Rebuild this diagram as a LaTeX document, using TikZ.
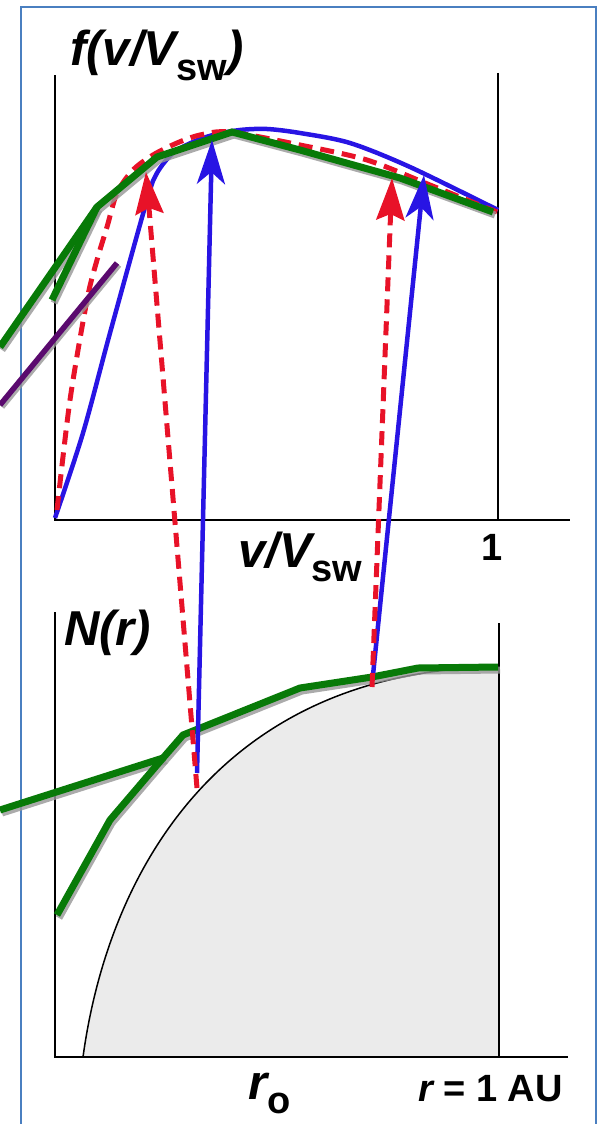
\documentclass[tikz,border=0pt]{standalone}
\usepackage{fontspec}
\setmainfont{Liberation Sans}
\usetikzlibrary{arrows.meta}
\definecolor{blueC}{RGB}{40,20,228}
\definecolor{redC}{RGB}{232,18,40}
\definecolor{greenC}{RGB}{8,122,8}
\definecolor{purpleC}{RGB}{90,10,110}
\definecolor{fillC}{RGB}{235,235,235}
\definecolor{frameC}{RGB}{74,127,192}
\definecolor{shadowC}{RGB}{150,150,150}
\newcommand\subtx[1]{\raisebox{-0.3em}{\fontsize{38}{38}\selectfont\upshape #1}}
\tikzset{
  axisline/.style={black, line width=2.2pt},
  greenline/.style={greenC, line width=7pt, line join=miter},
  shadowline/.style={shadowC, line width=7pt, opacity=0.8},
  bluecurve/.style={blueC, line width=4.5pt},
  reddash/.style={redC, line width=5pt, dash pattern=on 14pt off 8pt},
  bluearrow/.style={blueC, line width=4.5pt, -{Stealth[length=44pt,width=28pt,inset=12pt]}},
  redarrow/.style={redC, line width=5pt, dash pattern=on 14pt off 8pt, -{Stealth[length=42pt,width=28pt,inset=6pt]}},
  lbl/.style={inner sep=0pt, font=\fontsize{49}{49}\selectfont\bfseries\itshape},
  lblsmall/.style={inner sep=0pt, font=\fontsize{38}{38}\selectfont\bfseries},
}
\begin{document}
\begin{tikzpicture}[x=1pt,y=-1pt]
\useasboundingbox (0,0) rectangle (597,1124);
% frame
\draw[frameC, line width=2pt] (21,1135) -- (21,7) -- (596,7) -- (596,1135);

% ---------- top plot ----------
\draw[axisline] (55,75) -- (55,520) -- (570,520);
\draw[axisline] (498,73) -- (498,520);

\node[lbl, anchor=base west] (title) at (70,66) {f(v/V\subtx{sw})};
\node[lbl, anchor=base west] (xlab) at (238,567) {v/V\subtx{sw}};
\node[lblsmall, anchor=base] (one) at (492,560) {1};

% blue curve
\draw[bluecurve] plot[smooth, tension=0.5] coordinates {(55,518) (83,433) (110,333) (147,200) (157,173) (173,153) (193,142) (213,135) (240,130) (267,129) (300,133) (350,143) (410,167) (498,210)};
% red dashed curve
\draw[reddash] plot[smooth, tension=0.5] coordinates {(57,510) (70,400) (87,300) (97,260) (107,227) (117,193) (133,170) (153,155) (177,143) (200,135) (230,132) (300,145) (367,160) (430,185) (497,212)};

% purple line
\draw[shadowline, line width=5.5pt, xshift=2pt, yshift=-2pt] (0,405) -- (117,263);
\draw[purpleC, line width=5.5pt] (0,405) -- (117,263);

% green polylines top
\def\gtopA{(0,347) -- (97,207) -- (157,157) -- (232,132) -- (300,150) -- (400,178) -- (493,212)}
\def\gtopB{(52,300) -- (97,207)}
\draw[shadowline, xshift=2pt, yshift=-3pt] \gtopA;
\draw[shadowline, xshift=2pt, yshift=-3pt] \gtopB;
\draw[greenline] \gtopA;
\draw[greenline] \gtopB;

% ---------- bottom plot ----------
\fill[fillC] (83,1057) .. controls (110,860) and (230,670) .. (498,667) -- (498,1057) -- cycle;
\draw[black, line width=1.5pt] (83,1057) .. controls (110,860) and (230,670) .. (498,667);
\draw[axisline] (55,612) -- (55,1057) -- (568,1057);
\draw[axisline] (499,623) -- (499,1057);

\node[lbl, anchor=base west] (nlab) at (64,645) {N(r)};
\node[lbl, anchor=base west] (rolab) at (248,1099) {r\subtx{o}};
\node[lblsmall, anchor=base east] (aulab) at (563,1101) {\itshape r\upshape{} = 1 AU};

\def\gbotA{(0,810) -- (163,758) -- (183,735) -- (300,688) -- (372,677) -- (418,668) -- (498,667)}
\def\gbotB{(57,915) -- (110,820) -- (163,758)}
\draw[shadowline, xshift=2pt, yshift=-3pt] \gbotA;
\draw[shadowline, xshift=2pt, yshift=-3pt] \gbotB;
\draw[greenline] \gbotA;
\draw[greenline] \gbotB;

% ---------- arrows ----------
\coordinate (rb1) at (197,788);
\coordinate (bb1) at (197,773);
\coordinate (rt1) at (146,172);
\coordinate (bt1) at (212,140);
\coordinate (rb2) at (372,687);
\coordinate (bb2) at (373,675);
\coordinate (rt2) at (392,178);
\coordinate (bt2) at (424,175);
\draw[bluearrow] (bb1) -- (bt1);
\draw[redarrow] (rb1) -- (rt1);
\draw[bluearrow] (bb2) -- (bt2);
\draw[redarrow] (rb2) -- (rt2);
\end{tikzpicture}
\end{document}
